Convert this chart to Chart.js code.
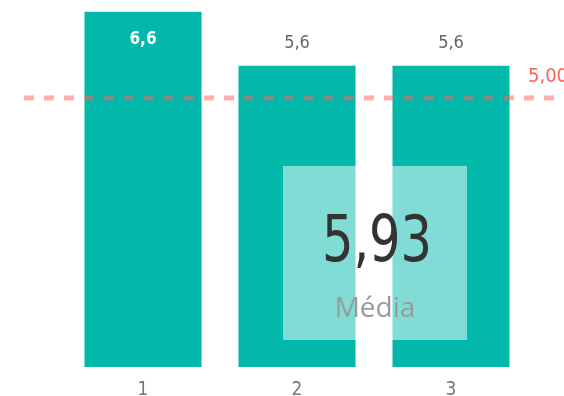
<!DOCTYPE html>
<html>
<head>
<meta charset="utf-8">
<script src="https://cdn.jsdelivr.net/npm/chart.js@4.4.1/dist/chart.umd.min.js"></script>
<style>
  html, body { margin: 0; padding: 0; background: #ffffff; }
  #wrap { width: 564px; height: 396px; position: relative; }
</style>
</head>
<body>
<div id="wrap"><canvas id="c" width="564" height="396"></canvas></div>
<script>
// Chart data
const categories = ['1', '2', '3'];
const scores = [6.6, 5.6, 5.6];
const targetValue = 5.0;
const averageLabel = 'Média';

const teal = '#01B8AA';
const narrow = '"DejaVu Sans Condensed", "DejaVu Sans", sans-serif';
const fmt = (v, d) => v.toFixed(d).replace('.', ',');
const average = scores.reduce((a, b) => a + b, 0) / scores.length;

// Dashed reference line with its value label
const targetLine = {
  id: 'targetLine',
  afterDatasetsDraw(chart) {
    const { ctx, scales: { y } } = chart;
    const py = y.getPixelForValue(targetValue);
    ctx.save();
    ctx.strokeStyle = 'rgba(253, 98, 94, 0.5)';
    ctx.lineWidth = 5;
    ctx.setLineDash([10, 10]);
    ctx.beginPath();
    ctx.moveTo(24, py);
    ctx.lineTo(chart.width + 10, py);
    ctx.stroke();
    ctx.setLineDash([]);
    ctx.fillStyle = '#FD625E';
    ctx.font = '20px ' + narrow;
    ctx.textAlign = 'left';
    ctx.textBaseline = 'middle';
    ctx.fillText(fmt(targetValue, 2), 528, py - 21);
    ctx.restore();
  }
};

// Value labels: above the bar, or inside when there is no room
const valueLabels = {
  id: 'valueLabels',
  afterDatasetsDraw(chart) {
    const { ctx, chartArea } = chart;
    const meta = chart.getDatasetMeta(0);
    ctx.save();
    ctx.textAlign = 'center';
    ctx.textBaseline = 'middle';
    meta.data.forEach((bar, i) => {
      const txt = fmt(scores[i], 1);
      if (bar.y - 30 < chartArea.top) {
        ctx.fillStyle = '#ffffff';
        ctx.font = 'bold 17px ' + narrow;
        ctx.fillText(txt, bar.x, bar.y + 28);
      } else {
        ctx.fillStyle = '#666666';
        ctx.font = '18px ' + narrow;
        ctx.fillText(txt, bar.x, bar.y - 22);
      }
    });
    ctx.restore();
  }
};

// Card showing the mean
const averageCard = {
  id: 'averageCard',
  afterDraw(chart) {
    const { ctx } = chart;
    const x = 283, y = 166, w = 184, h = 174;
    ctx.save();
    ctx.fillStyle = 'rgba(255, 255, 255, 0.5)';
    ctx.fillRect(x, y, w, h);
    ctx.textAlign = 'center';
    ctx.textBaseline = 'alphabetic';
    ctx.fillStyle = '#333333';
    ctx.font = '64px ' + narrow;
    // slightly condensed numerals
    ctx.save();
    ctx.translate(x + w / 2 + 2, 261);
    ctx.scale(0.86, 1);
    ctx.fillText(fmt(average, 2), 0, 0);
    ctx.restore();
    ctx.fillStyle = '#9a9a9a';
    ctx.font = '28px "Open Sans", sans-serif';
    ctx.fillText(averageLabel, x + w / 2, 317);
    ctx.restore();
  }
};

new Chart(document.getElementById('c'), {
  type: 'bar',
  data: {
    labels: categories,
    datasets: [{
      data: scores,
      backgroundColor: teal,
      borderWidth: 0,
      barPercentage: 0.76,
      categoryPercentage: 1.0
    }]
  },
  options: {
    responsive: false,
    animation: false,
    devicePixelRatio: 1,
    layout: { padding: { left: 66, right: 36, top: 0, bottom: 0 } },
    plugins: { legend: { display: false }, tooltip: { enabled: false } },
    scales: {
      x: {
        grid: { display: false, drawTicks: false },
        border: { display: false },
        ticks: { color: '#777777', font: { size: 19, family: narrow }, padding: 12 },
        afterFit(scale) { scale.height = 29; }
      },
      y: {
        display: false,
        min: 0,
        max: 6.82
      }
    }
  },
  plugins: [targetLine, valueLabels, averageCard]
});
</script>
</body>
</html>
